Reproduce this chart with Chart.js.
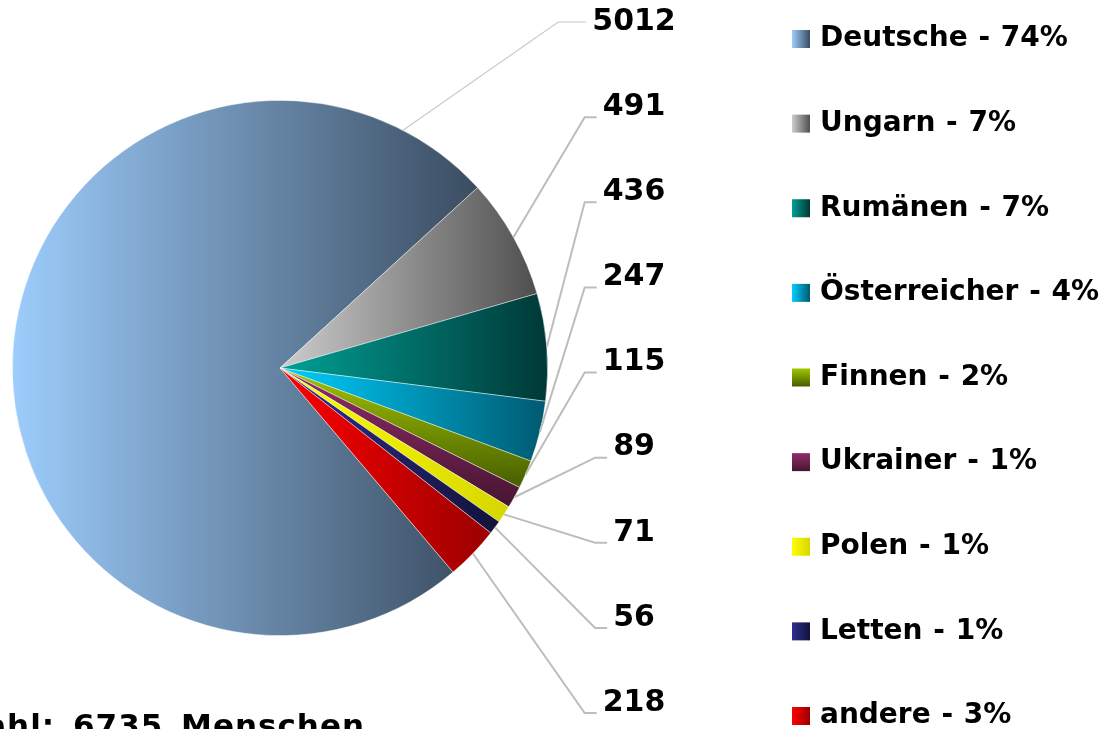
<!DOCTYPE html>
<html>
<head>
<meta charset="utf-8">
<script src="https://cdn.jsdelivr.net/npm/chart.js@4/dist/chart.umd.min.js"></script>
<style>
	html, body { margin: 0; padding: 0; background: #fff; }
	#fig_wrap { width: 1108px; height: 729px; position: relative; }
</style>
</head>
<body>
<div id="fig_wrap"><canvas id="canvas_pie"></canvas></div>
<script>
		var groupNames = ['Deutsche', 'Ungarn', 'Rumänen', 'Österreicher', 'Finnen', 'Ukrainer', 'Polen', 'Letten', 'andere'];
		var groupCounts = [5012, 491, 436, 247, 115, 89, 71, 56, 218];
		var groupShares = [74, 7, 7, 4, 2, 1, 1, 1, 3];

		// colours: light end / dark end of every slice gradient
		var lightColors = ['#9dcdfc', '#cdcdcd', '#00a096', '#00cfff', '#a2c400', '#922d6a', '#ffff00', '#2f2f90', '#ff0000'];
		var darkColors  = ['#3a4c60', '#4f4f4f', '#003836', '#005a70', '#465e00', '#461530', '#d6d600', '#12123a', '#9a0000'];
		var verticalGrad = [false, false, false, false, true, true, false, false, false];

		var totalCount = 0;
		for (var t in groupCounts) { totalCount += groupCounts[t]; }
		var totalText = 'Gesamtzahl: ' + totalCount + ' Menschen';

		var pieRotation = 139.7;
		var fontName = "'DejaVu Sans', Verdana, sans-serif";

		function sliceBox(chart, idx) {
			var area = chart.chartArea;
			var cx = (area.left + area.right) / 2, cy = (area.top + area.bottom) / 2;
			var r = Math.min(area.width, area.height) / 2;
			var a = pieRotation * Math.PI / 180 - Math.PI / 2;
			for (var k = 0; k < idx; k++) a += groupCounts[k] / totalCount * Math.PI * 2;
			var b = a + groupCounts[idx] / totalCount * Math.PI * 2;
			var box = {x0: cx, x1: cx, y0: cy, y1: cy};
			for (var s = 0; s <= 60; s++) {
				var ang = a + (b - a) * s / 60;
				var px = cx + r * Math.cos(ang), py = cy + r * Math.sin(ang);
				box.x0 = Math.min(box.x0, px); box.x1 = Math.max(box.x1, px);
				box.y0 = Math.min(box.y0, py); box.y1 = Math.max(box.y1, py);
			}
			return box;
		}

		function makeGrad(ctx, idx, x0, y0, x1, y1) {
			var g = verticalGrad[idx] ? ctx.createLinearGradient(0, y0, 0, y1) : ctx.createLinearGradient(x0, 0, x1, 0);
			g.addColorStop(0, lightColors[idx]);
			g.addColorStop(1, darkColors[idx]);
			return g;
		}

		function sliceColor(context) {
			var chart = context.chart;
			var idx = context.dataIndex;
			if (!chart.chartArea || idx === undefined) return lightColors[idx || 0];
			var box = sliceBox(chart, idx);
			return makeGrad(chart.ctx, idx, box.x0, box.y0, box.x1, box.y1);
		}

		var pieDecor = {
			id: 'pieDecor',
			afterDraw: function(chart) {
				var ctx = chart.ctx;
				var meta = chart.getDatasetMeta(0);
				var n = groupCounts.length;
				var labelX = 634, labelTop = 22, labelBottom = 703;
				ctx.save();
				ctx.font = 'bold 30px ' + fontName;
				ctx.textBaseline = 'middle';
				ctx.textAlign = 'center';
				for (var i = 0; i < n; i++) {
					var arc = meta.data[i];
					var p = arc.getProps(['x', 'y', 'startAngle', 'endAngle', 'outerRadius'], true);
					var ly = labelTop + (labelBottom - labelTop) * i / (n - 1);
					var txt = String(groupCounts[i]);
					var w = ctx.measureText(txt).width;
					var lineEnd = labelX - w / 2 - 6;
					var big = p.endAngle - p.startAngle > Math.PI / 2;
					var ex = lineEnd - (big ? 28 : 12), ey = big ? ly : ly + 10;
					var ang;
					if (big) {
						ang = Math.atan2(ey - p.y, ex - p.x) - 0.2;
						while (ang < p.startAngle) ang += Math.PI * 2;
						if (ang > p.endAngle) ang = p.endAngle;
					} else {
						ang = (p.startAngle + p.endAngle) / 2;
					}
					var ax = p.x + p.outerRadius * Math.cos(ang);
					var ay = p.y + p.outerRadius * Math.sin(ang);
					ctx.strokeStyle = big ? '#c8c8c8' : '#bdbdbd';
					ctx.lineWidth = big ? 1.1 : 2;
					ctx.beginPath();
					ctx.moveTo(ax, ay);
					ctx.lineTo(ex, ey);
					ctx.lineTo(lineEnd, ey);
					ctx.stroke();
					ctx.fillStyle = '#000';
					ctx.fillText(txt, labelX, ly);
				}

				// legend
				var legX = 792, legTop = 39, legBottom = 716, sq = 18;
				ctx.font = 'bold 28px ' + fontName;
				ctx.wordSpacing = '1px';
				ctx.textAlign = 'left';
				for (var j = 0; j < n; j++) {
					var y = legTop + (legBottom - legTop) * j / (n - 1);
					ctx.fillStyle = makeGrad(ctx, j, legX, y - sq / 2, legX + sq, y + sq / 2);
					ctx.fillRect(legX, y - sq / 2, sq, sq);
					ctx.fillStyle = '#000';
					ctx.fillText(groupNames[j] + ' - ' + groupShares[j] + '%', 820, y);
				}

				// total line at the bottom
				ctx.font = 'bold 31px ' + fontName;
				ctx.wordSpacing = '6px';
				ctx.letterSpacing = '1px';
				ctx.textAlign = 'right';
				ctx.textBaseline = 'alphabetic';
				ctx.fillText(totalText, 365, 736);
				ctx.restore();
			}
		};

		var configPie = {
			type: 'pie',
			data: {
				labels: groupNames,
				datasets: [{
					data: groupCounts,
					backgroundColor: sliceColor,
					borderColor: 'rgba(255,255,255,0.55)',
					borderWidth: 0.8,
					label: 'Menschen'
				}]
			},
			options: {
				responsive: true,
				maintainAspectRatio: false,
				animation: false,
				events: [],
				rotation: pieRotation,
				layout: { padding: { left: 12, right: 560, top: 100, bottom: 93 } },
				plugins: {
					legend: { display: false },
					tooltip: { enabled: false },
					title: { display: false }
				}
			},
			plugins: [pieDecor]
		};

		var ctx_pie = document.getElementById('canvas_pie').getContext('2d');
		new Chart(ctx_pie, configPie);
</script>
</body>
</html>
